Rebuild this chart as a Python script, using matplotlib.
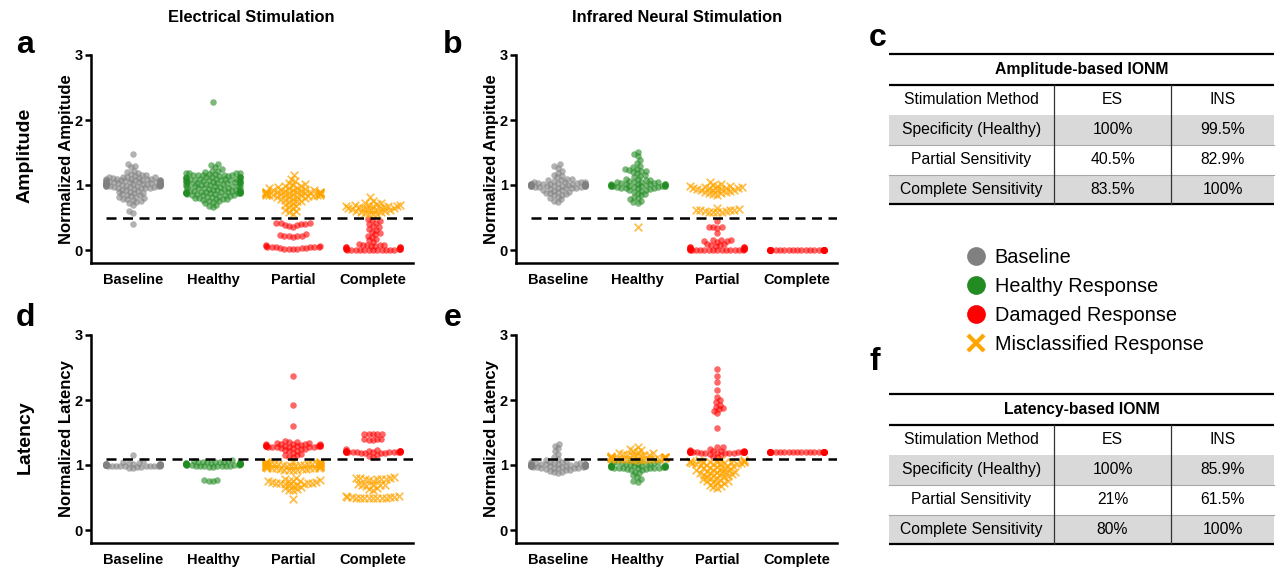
import numpy as np
import matplotlib
matplotlib.use("Agg")
import matplotlib.pyplot as plt
from matplotlib.lines import Line2D

plt.rcParams["font.family"] = ["Liberation Sans", "DejaVu Sans"]

# ---------------------------------------------------------------- data
CATEGORIES = ["Baseline", "Healthy", "Partial", "Complete"]
YTICKS = [0, 1, 2, 3]

# ---- (a) Electrical stimulation, normalized amplitude
AMP_ES_BASELINE = [1.48, 1.32, 1.29, 1.27, 1.22, 1.20, 1.18, 1.17, 1.16, 1.15, 1.14, 1.13, 1.13, 1.12, 1.12,
                   1.11, 1.11, 1.10, 1.10, 1.10, 1.09, 1.09, 1.08, 1.08, 1.08, 1.07, 1.07, 1.07, 1.06, 1.06,
                   1.06, 1.05, 1.05, 1.05, 1.05, 1.04, 1.04, 1.04, 1.04, 1.03, 1.03, 1.03, 1.03, 1.02, 1.02,
                   1.02, 1.02, 1.01, 1.01, 1.01, 1.01, 1.00, 1.00, 1.00, 1.00, 1.00, 1.00, 1.00, 1.00, 0.99,
                   0.99, 0.99, 0.99, 0.98, 0.98, 0.98, 0.97, 0.97, 0.97, 0.96, 0.96, 0.95, 0.95, 0.94, 0.93,
                   0.92, 0.91, 0.90, 0.89, 0.88, 0.87, 0.86, 0.85, 0.84, 0.83, 0.82, 0.81, 0.80, 0.79, 0.78,
                   0.77, 0.76, 0.74, 0.72, 0.70, 0.60, 0.57, 0.40]
AMP_ES_HEALTHY = [2.28, 1.32, 1.31, 1.27, 1.24, 1.22, 1.21, 1.20, 1.19, 1.19, 1.18, 1.18, 1.17, 1.17, 1.16,
                  1.16, 1.15, 1.15, 1.15, 1.14, 1.14, 1.13, 1.13, 1.13, 1.12, 1.12, 1.12, 1.11, 1.11, 1.10,
                  1.10, 1.10, 1.09, 1.09, 1.08, 1.08, 1.08, 1.07, 1.07, 1.06, 1.06, 1.06, 1.05, 1.05, 1.05,
                  1.04, 1.04, 1.03, 1.03, 1.03, 1.02, 1.02, 1.02, 1.01, 1.01, 1.00, 1.00, 0.99, 0.99, 0.99,
                  0.98, 0.98, 0.97, 0.97, 0.96, 0.96, 0.95, 0.95, 0.94, 0.94, 0.93, 0.93, 0.92, 0.92, 0.92,
                  0.91, 0.91, 0.91, 0.90, 0.90, 0.90, 0.90, 0.89, 0.89, 0.89, 0.89, 0.88, 0.88, 0.88, 0.88,
                  0.87, 0.87, 0.87, 0.86, 0.86, 0.86, 0.85, 0.85, 0.84, 0.84, 0.83, 0.83, 0.82, 0.81, 0.80,
                  0.80, 0.79, 0.78, 0.78, 0.77, 0.76, 0.75, 0.74, 0.72, 0.70, 0.68, 0.66]
AMP_ES_PARTIAL_DAMAGED = [0.42, 0.41, 0.41, 0.40, 0.40, 0.39, 0.38, 0.37, 0.36, 0.24, 0.23, 0.22, 0.22, 0.21,
                          0.21, 0.20, 0.07, 0.06, 0.06, 0.05, 0.05, 0.05, 0.04, 0.04, 0.04, 0.03, 0.03, 0.03,
                          0.02, 0.02, 0.02, 0.01]
AMP_ES_PARTIAL_MISCLASS = [1.15, 1.10, 1.06, 1.03, 1.01, 1.00, 0.99, 0.98, 0.97, 0.96, 0.95, 0.95, 0.94, 0.93,
                           0.93, 0.92, 0.92, 0.91, 0.91, 0.90, 0.90, 0.90, 0.89, 0.89, 0.89, 0.89, 0.88, 0.88,
                           0.88, 0.88, 0.87, 0.87, 0.87, 0.87, 0.86, 0.86, 0.86, 0.86, 0.85, 0.85, 0.85, 0.85,
                           0.84, 0.84, 0.84, 0.83, 0.83, 0.82, 0.82, 0.81, 0.80, 0.79, 0.78, 0.77, 0.76, 0.75,
                           0.74, 0.72, 0.70, 0.68, 0.66, 0.64, 0.62, 0.60, 0.58, 0.56]
AMP_ES_COMPLETE_DAMAGED = [0.48, 0.46, 0.44, 0.42, 0.40, 0.37, 0.35, 0.33, 0.31, 0.28, 0.26, 0.24, 0.22, 0.20,
                           0.17, 0.15, 0.12, 0.10, 0.08, 0.08, 0.07, 0.07, 0.06, 0.06, 0.05, 0.05, 0.04, 0.04,
                           0.03, 0.03, 0.02, 0.02, 0.01, 0.01, 0.01, 0.00, 0.00, 0.00, 0.00, 0.00, 0.00, 0.00,
                           0.00, 0.00, 0.00, 0.00, 0.00]
AMP_ES_COMPLETE_MISCLASS = [0.81, 0.76, 0.73, 0.72, 0.71, 0.70, 0.69, 0.69, 0.68, 0.68, 0.67, 0.67, 0.66, 0.66,
                            0.65, 0.65, 0.64, 0.64, 0.63, 0.63, 0.62, 0.62, 0.61, 0.60, 0.60, 0.59, 0.58, 0.57,
                            0.56, 0.55, 0.55]

# ---- (b) Infrared neural stimulation, normalized amplitude
AMP_INS_BASELINE = [1.32, 1.29, 1.26, 1.22, 1.19, 1.16, 1.14, 1.12, 1.10, 1.09, 1.08, 1.07, 1.06, 1.05, 1.05,
                    1.04, 1.04, 1.03, 1.03, 1.03, 1.02, 1.02, 1.02, 1.02, 1.01, 1.01, 1.01, 1.01, 1.01, 1.00,
                    1.00, 1.00, 1.00, 1.00, 1.00, 1.00, 1.00, 1.00, 1.00, 0.99, 0.99, 0.99, 0.99, 0.99, 0.98,
                    0.98, 0.98, 0.98, 0.97, 0.97, 0.97, 0.96, 0.96, 0.95, 0.95, 0.94, 0.93, 0.92, 0.91, 0.90,
                    0.89, 0.88, 0.87, 0.86, 0.85, 0.84, 0.82, 0.80, 0.78, 0.76, 0.74]
AMP_INS_HEALTHY = [1.51, 1.48, 1.44, 1.38, 1.34, 1.30, 1.27, 1.25, 1.24, 1.23, 1.22, 1.21, 1.20, 1.18, 1.16,
                   1.14, 1.12, 1.10, 1.09, 1.08, 1.07, 1.06, 1.05, 1.05, 1.04, 1.04, 1.03, 1.03, 1.02, 1.02,
                   1.02, 1.01, 1.01, 1.01, 1.00, 1.00, 1.00, 1.00, 0.99, 0.99, 0.99, 0.99, 0.98, 0.98, 0.98,
                   0.98, 0.97, 0.97, 0.97, 0.96, 0.96, 0.95, 0.95, 0.94, 0.93, 0.92, 0.91, 0.90, 0.88, 0.86,
                   0.84, 0.82, 0.80, 0.78, 0.76, 0.74, 0.73]
AMP_INS_HEALTHY_MISCLASS = [0.35]
AMP_INS_PARTIAL_DAMAGED = [0.44, 0.36, 0.35, 0.35, 0.34, 0.26, 0.16, 0.15, 0.15, 0.14, 0.14, 0.13, 0.10, 0.09,
                           0.08, 0.07, 0.06, 0.05, 0.05, 0.04, 0.04, 0.03, 0.03, 0.02, 0.02, 0.02, 0.01, 0.01,
                           0.01, 0.00, 0.00, 0.00, 0.00, 0.00, 0.00, 0.00, 0.00, 0.00, 0.00, 0.00, 0.00, 0.00,
                           0.00]
AMP_INS_PARTIAL_MISCLASS = [1.04, 1.01, 1.00, 0.99, 0.98, 0.98, 0.97, 0.97, 0.96, 0.96, 0.95, 0.95, 0.94, 0.94,
                            0.93, 0.93, 0.92, 0.92, 0.91, 0.90, 0.89, 0.88, 0.87, 0.86, 0.85, 0.65, 0.63, 0.62,
                            0.62, 0.61, 0.61, 0.60, 0.60, 0.59, 0.59, 0.58, 0.58]
AMP_INS_COMPLETE_DAMAGED = [0.00, 0.00, 0.00, 0.00, 0.00, 0.00, 0.00, 0.00, 0.00, 0.00, 0.00, 0.00, 0.00, 0.00,
                            0.00, 0.00, 0.00, 0.00, 0.00, 0.00, 0.00, 0.00, 0.00, 0.00, 0.00, 0.00, 0.00, 0.00,
                            0.00, 0.00]

# ---- (d) Electrical stimulation, normalized latency
LAT_ES_BASELINE = [1.16, 1.06, 1.04, 1.03, 1.03, 1.02, 1.02, 1.02, 1.01, 1.01, 1.01, 1.01, 1.01, 1.00, 1.00,
                   1.00, 1.00, 1.00, 1.00, 1.00, 1.00, 1.00, 1.00, 1.00, 1.00, 1.00, 1.00, 1.00, 0.99, 0.99,
                   0.99, 0.99, 0.99, 0.99, 0.98, 0.98, 0.98, 0.98, 0.97, 0.97, 0.96, 0.95]
LAT_ES_HEALTHY = [1.07, 1.06, 1.06, 1.05, 1.05, 1.05, 1.04, 1.04, 1.04, 1.04, 1.03, 1.03, 1.03, 1.03, 1.03,
                  1.02, 1.02, 1.02, 1.02, 1.02, 1.01, 1.01, 1.01, 1.01, 1.01, 1.00, 1.00, 1.00, 1.00, 1.00,
                  0.99, 0.99, 0.99, 0.99, 0.98, 0.98, 0.98, 0.97, 0.97, 0.77, 0.77, 0.76, 0.76]
LAT_ES_PARTIAL_DAMAGED = [2.37, 1.92, 1.60, 1.37, 1.36, 1.35, 1.34, 1.34, 1.33, 1.33, 1.32, 1.32, 1.32, 1.31,
                          1.31, 1.31, 1.30, 1.30, 1.30, 1.30, 1.29, 1.29, 1.29, 1.29, 1.28, 1.28, 1.28, 1.27,
                          1.27, 1.27, 1.26, 1.26, 1.25, 1.24, 1.23, 1.22, 1.21, 1.19, 1.17, 1.16, 1.15, 1.13,
                          1.12]
LAT_ES_PARTIAL_MISCLASS = [1.05, 1.05, 1.04, 1.04, 1.04, 1.03, 1.03, 1.03, 1.03, 1.02, 1.02, 1.02, 1.02, 1.01,
                           1.01, 1.01, 1.01, 1.00, 1.00, 1.00, 1.00, 1.00, 0.99, 0.99, 0.99, 0.99, 0.98, 0.98,
                           0.98, 0.98, 0.97, 0.97, 0.97, 0.97, 0.96, 0.96, 0.96, 0.95, 0.95, 0.95, 0.94, 0.94,
                           0.94, 0.93, 0.93, 0.92, 0.92, 0.80, 0.78, 0.77, 0.76, 0.76, 0.75, 0.75, 0.74, 0.74,
                           0.73, 0.73, 0.72, 0.72, 0.71, 0.71, 0.70, 0.69, 0.68, 0.66, 0.64, 0.63, 0.62, 0.61,
                           0.47]
LAT_ES_COMPLETE_DAMAGED = [1.48, 1.48, 1.48, 1.47, 1.47, 1.40, 1.40, 1.40, 1.39, 1.38, 1.24, 1.23, 1.22, 1.22,
                           1.22, 1.21, 1.21, 1.21, 1.21, 1.21, 1.20, 1.20, 1.20, 1.20, 1.20, 1.20, 1.20, 1.20,
                           1.20, 1.20, 1.20, 1.20, 1.19, 1.19, 1.19, 1.18, 1.16, 1.14, 1.13]
LAT_ES_COMPLETE_MISCLASS = [0.81, 0.80, 0.80, 0.80, 0.79, 0.79, 0.78, 0.78, 0.77, 0.76, 0.71, 0.70, 0.70, 0.69,
                            0.69, 0.68, 0.65, 0.63, 0.62, 0.52, 0.52, 0.51, 0.51, 0.51, 0.51, 0.50, 0.50, 0.50,
                            0.50, 0.50, 0.50, 0.50, 0.50]

# ---- (e) Infrared neural stimulation, normalized latency
LAT_INS_BASELINE = [1.33, 1.30, 1.26, 1.22, 1.17, 1.13, 1.10, 1.08, 1.06, 1.05, 1.04, 1.04, 1.03, 1.03, 1.03,
                    1.02, 1.02, 1.02, 1.02, 1.01, 1.01, 1.01, 1.01, 1.01, 1.00, 1.00, 1.00, 1.00, 1.00, 1.00,
                    1.00, 1.00, 1.00, 1.00, 1.00, 1.00, 0.99, 0.99, 0.99, 0.99, 0.99, 0.99, 0.98, 0.98, 0.98,
                    0.98, 0.98, 0.97, 0.97, 0.97, 0.97, 0.96, 0.96, 0.96, 0.95, 0.95, 0.94, 0.93, 0.92, 0.91,
                    0.90, 0.89, 0.88]
LAT_INS_HEALTHY = [1.07, 1.06, 1.05, 1.05, 1.04, 1.04, 1.03, 1.03, 1.02, 1.02, 1.01, 1.01, 1.00, 1.00, 1.00,
                   0.99, 0.99, 0.99, 0.98, 0.98, 0.98, 0.98, 0.97, 0.97, 0.97, 0.97, 0.97, 0.96, 0.96, 0.96,
                   0.96, 0.95, 0.95, 0.95, 0.94, 0.94, 0.93, 0.92, 0.90, 0.87, 0.84, 0.81, 0.78, 0.75, 0.74]
LAT_INS_HEALTHY_MISCLASS = [1.28, 1.25, 1.23, 1.21, 1.20, 1.19, 1.18, 1.17, 1.16, 1.16, 1.15, 1.15, 1.14, 1.14,
                            1.14, 1.13, 1.13, 1.13, 1.12, 1.12, 1.12, 1.12, 1.11, 1.11, 1.11, 1.11, 1.10, 1.10,
                            1.10, 1.10, 1.10, 1.09, 1.09, 1.09, 1.09, 1.08, 1.08, 1.08]
LAT_INS_PARTIAL_DAMAGED = [2.47, 2.37, 2.28, 2.15, 2.05, 2.00, 1.97, 1.93, 1.90, 1.88, 1.86, 1.83, 1.80, 1.57,
                           1.28, 1.27, 1.25, 1.23, 1.22, 1.22, 1.21, 1.21, 1.21, 1.21, 1.20, 1.20, 1.20, 1.20,
                           1.20, 1.20, 1.20, 1.20, 1.20, 1.20, 1.20, 1.20, 1.20, 1.20, 1.19, 1.19, 1.19, 1.19,
                           1.18, 1.18, 1.17, 1.15, 1.13, 1.12]
LAT_INS_PARTIAL_MISCLASS = [1.08, 1.07, 1.07, 1.06, 1.06, 1.05, 1.05, 1.05, 1.04, 1.04, 1.04, 1.03, 1.03, 1.03,
                            1.02, 1.02, 1.01, 1.01, 1.00, 1.00, 0.99, 0.98, 0.97, 0.96, 0.96, 0.95, 0.94, 0.93,
                            0.92, 0.92, 0.91, 0.90, 0.90, 0.89, 0.88, 0.88, 0.87, 0.86, 0.85, 0.85, 0.84, 0.83,
                            0.82, 0.81, 0.80, 0.79, 0.78, 0.77, 0.76, 0.75, 0.74, 0.73, 0.72, 0.70, 0.68, 0.66,
                            0.65]
LAT_INS_COMPLETE_DAMAGED = [1.20, 1.20, 1.20, 1.20, 1.20, 1.20, 1.20, 1.20, 1.20, 1.20, 1.20, 1.20, 1.20, 1.20,
                            1.20, 1.20, 1.20, 1.20, 1.20, 1.20, 1.20, 1.20, 1.20, 1.20, 1.20, 1.20, 1.20, 1.20,
                            1.20, 1.20]

AMP_THRESHOLD = 0.5
LAT_THRESHOLD = 1.1

# ---- tables
TABLE_HEADER = ["Stimulation Method", "ES", "INS"]
TABLE_ROW_NAMES = ["Specificity (Healthy)", "Partial Sensitivity", "Complete Sensitivity"]
AMP_TABLE_TITLE = "Amplitude-based IONM"
AMP_TABLE_ES = ["100%", "40.5%", "83.5%"]
AMP_TABLE_INS = ["99.5%", "82.9%", "100%"]
LAT_TABLE_TITLE = "Latency-based IONM"
LAT_TABLE_ES = ["100%", "21%", "80%"]
LAT_TABLE_INS = ["85.9%", "61.5%", "100%"]

LEGEND_LABELS = ["Baseline", "Healthy Response", "Damaged Response", "Misclassified Response"]

# ---------------------------------------------------------------- style
COLORS = {"base": "#808080", "healthy": "#228B22", "damaged": "#FF0000", "mis": "#FFA500"}
W, H = 1277, 568
fig = plt.figure(figsize=(W / 100, H / 100), dpi=100)


def px_axes(l, t, r, b):
    return fig.add_axes([l / W, 1 - b / H, (r - l) / W, (b - t) / H])


def beeswarm(ax, xpos, values, spacing_px, half_px):
    vals = np.asarray(values, float)
    pts = ax.transData.transform(np.column_stack([np.full(len(vals), xpos), vals]))
    ypx = pts[:, 1]
    x0 = pts[0, 0]
    order = np.argsort(ypx, kind="stable")
    px_l, py_l = [], []
    offs = np.zeros(len(vals))
    d2 = spacing_px ** 2
    for i in order:
        y = ypx[i]
        if px_l:
            pxa = np.array(px_l)
            pya = np.array(py_l)
            m = np.abs(pya - y) < spacing_px
            nx, ny = pxa[m], pya[m]
        else:
            nx = ny = np.array([])
        if len(nx):
            dx = np.sqrt(np.maximum(d2 - (ny - y) ** 2, 0))
            cands = np.concatenate([[0.0], nx - dx, nx + dx])
            cands = cands[np.argsort(np.abs(cands), kind="stable")]
            chosen = cands[-1]
            for c in cands:
                if np.all((c - nx) ** 2 + (ny - y) ** 2 >= d2 - 1e-6):
                    chosen = c
                    break
        else:
            chosen = 0.0
        px_l.append(chosen)
        py_l.append(y)
        offs[i] = chosen
    offs = np.clip(offs, -half_px, half_px)
    inv = ax.transData.inverted()
    return inv.transform(np.column_stack([x0 + offs, ypx]))[:, 0]


def setup_axes(ax, ylabel, thr):
    ax.set_xlim(-0.525, 3.5)
    ax.set_ylim(-0.2, 3.0)
    for s in ["top", "right"]:
        ax.spines[s].set_visible(False)
    for s in ["left", "bottom"]:
        ax.spines[s].set_linewidth(1.8)
    ax.set_yticks(YTICKS)
    ax.set_yticklabels([str(t) for t in YTICKS], fontweight="bold", fontsize=10.5)
    ax.set_xticks(range(len(CATEGORIES)))
    ax.set_xticklabels(CATEGORIES, fontweight="bold", fontsize=10.5)
    ax.tick_params(axis="y", direction="out", length=4.5, width=1.8, pad=1.5)
    ax.tick_params(axis="x", length=0, pad=7)
    ax.set_ylabel(ylabel, fontweight="bold", fontsize=12, labelpad=0.5)
    ax.hlines(thr, -0.34, 3.5, colors="k", linestyles=(0, (4, 2.6)), linewidth=1.8, zorder=5)
    ax.patch.set_alpha(0)


def draw_groups(ax, groups):
    for cat, vals, kind in groups:
        if len(vals) == 0:
            continue
        xs = beeswarm(ax, cat, vals, 4.3, 27)
        if kind == "mis":
            ax.scatter(xs, vals, marker="x", s=30, linewidths=1.3, color=COLORS[kind], alpha=0.7, zorder=3)
        else:
            ax.scatter(xs, vals, marker="o", s=22, linewidths=0, color=COLORS[kind], alpha=0.6, zorder=2)


ax_a = px_axes(91, 55, 413, 263)
ax_b = px_axes(516, 55, 837, 263)
ax_d = px_axes(91, 335, 413, 543)
ax_e = px_axes(516, 335, 837, 543)

setup_axes(ax_a, "Normalized Ampitude", AMP_THRESHOLD)
setup_axes(ax_b, "Normalized Ampitude", AMP_THRESHOLD)
setup_axes(ax_d, "Normalized Latency", LAT_THRESHOLD)
setup_axes(ax_e, "Normalized Latency", LAT_THRESHOLD)

draw_groups(ax_a, [(0, AMP_ES_BASELINE, "base"), (1, AMP_ES_HEALTHY, "healthy"),
                   (2, AMP_ES_PARTIAL_DAMAGED, "damaged"), (3, AMP_ES_COMPLETE_DAMAGED, "damaged"),
                   (2, AMP_ES_PARTIAL_MISCLASS, "mis"), (3, AMP_ES_COMPLETE_MISCLASS, "mis")])
draw_groups(ax_b, [(0, AMP_INS_BASELINE, "base"), (1, AMP_INS_HEALTHY, "healthy"),
                   (2, AMP_INS_PARTIAL_DAMAGED, "damaged"), (3, AMP_INS_COMPLETE_DAMAGED, "damaged"),
                   (1, AMP_INS_HEALTHY_MISCLASS, "mis"), (2, AMP_INS_PARTIAL_MISCLASS, "mis")])
draw_groups(ax_d, [(0, LAT_ES_BASELINE, "base"), (1, LAT_ES_HEALTHY, "healthy"),
                   (2, LAT_ES_PARTIAL_DAMAGED, "damaged"), (3, LAT_ES_COMPLETE_DAMAGED, "damaged"),
                   (2, LAT_ES_PARTIAL_MISCLASS, "mis"), (3, LAT_ES_COMPLETE_MISCLASS, "mis")])
draw_groups(ax_e, [(0, LAT_INS_BASELINE, "base"), (1, LAT_INS_HEALTHY, "healthy"),
                   (2, LAT_INS_PARTIAL_DAMAGED, "damaged"), (3, LAT_INS_COMPLETE_DAMAGED, "damaged"),
                   (1, LAT_INS_HEALTHY_MISCLASS, "mis"), (2, LAT_INS_PARTIAL_MISCLASS, "mis")])

# ---------------------------------------------------------------- overlay (text + tables)
ov = fig.add_axes([0, 0, 1, 1], zorder=-1)
ov.set_xlim(0, W)
ov.set_ylim(H, 0)
ov.axis("off")

ov.text(251, 18, "Electrical Stimulation", ha="center", va="center", fontsize=11.8, fontweight="bold")
ov.text(677, 18, "Infrared Neural Stimulation", ha="center", va="center", fontsize=11.8, fontweight="bold")
ov.text(25, 155, "Amplitude", rotation=90, ha="center", va="center", fontsize=14, fontweight="bold")
ov.text(25, 437, "Latency", rotation=90, ha="center", va="center", fontsize=14, fontweight="bold")
for lab, x, y in [("a", 25, 45), ("b", 453, 45), ("d", 25, 318), ("e", 453, 318), ("c", 878, 38), ("f", 875, 362)]:
    ov.text(x, y, lab, ha="center", va="center", fontsize=23, fontweight="bold")


def draw_table(top, title, es_vals, ins_vals):
    xl, xr = 889, 1274
    c1, c2 = 1054, 1171
    title_b = top + 30.5
    head_b = title_b + 30.5
    row_h = 29.8
    bottom = head_b + 3 * row_h
    col_centers = [(xl + c1) / 2, (c1 + c2) / 2, (c2 + xr) / 2]
    for r in range(3):
        yt = head_b + r * row_h
        if r % 2 == 0:
            ov.fill_between([xl, xr], yt, yt + row_h, color="#d9d9d9", lw=0)
        if r > 0:
            ov.plot([xl, xr], [yt, yt], color="#a8a8a8", lw=0.8)
        cells = [TABLE_ROW_NAMES[r], es_vals[r], ins_vals[r]]
        for cx, txt in zip(col_centers, cells):
            ov.text(cx, yt + row_h / 2, txt, ha="center", va="center", fontsize=11.3)
    for cx, txt in zip(col_centers, TABLE_HEADER):
        ov.text(cx, (title_b + head_b) / 2, txt, ha="center", va="center", fontsize=11.3)
    ov.text((xl + xr) / 2, (top + title_b) / 2, title, ha="center", va="center", fontsize=11.3,
            fontweight="bold")
    for yy in [top, title_b, bottom]:
        ov.plot([xl, xr], [yy, yy], color="k", lw=1.6, solid_capstyle="butt")
    for xx in [c1, c2]:
        ov.plot([xx, xx], [title_b, bottom], color="#333333", lw=0.9)


draw_table(54, AMP_TABLE_TITLE, AMP_TABLE_ES, AMP_TABLE_INS)
draw_table(394, LAT_TABLE_TITLE, LAT_TABLE_ES, LAT_TABLE_INS)

handles = [Line2D([], [], ls="", marker="o", ms=13.5, color=COLORS["base"], mew=0),
           Line2D([], [], ls="", marker="o", ms=13.5, color=COLORS["healthy"], mew=0),
           Line2D([], [], ls="", marker="o", ms=13.5, color=COLORS["damaged"], mew=0),
           Line2D([], [], ls="", marker="x", ms=12, color=COLORS["mis"], mew=3)]
fig.legend(handles, LEGEND_LABELS, loc="upper left", bbox_to_anchor=(966 / W, 1 - 248 / H),
           frameon=False, fontsize=14.3, handlelength=1.0, handletextpad=0.45, labelspacing=0.5,
           borderaxespad=0, borderpad=0)

fig.savefig("out.png", dpi=100)
